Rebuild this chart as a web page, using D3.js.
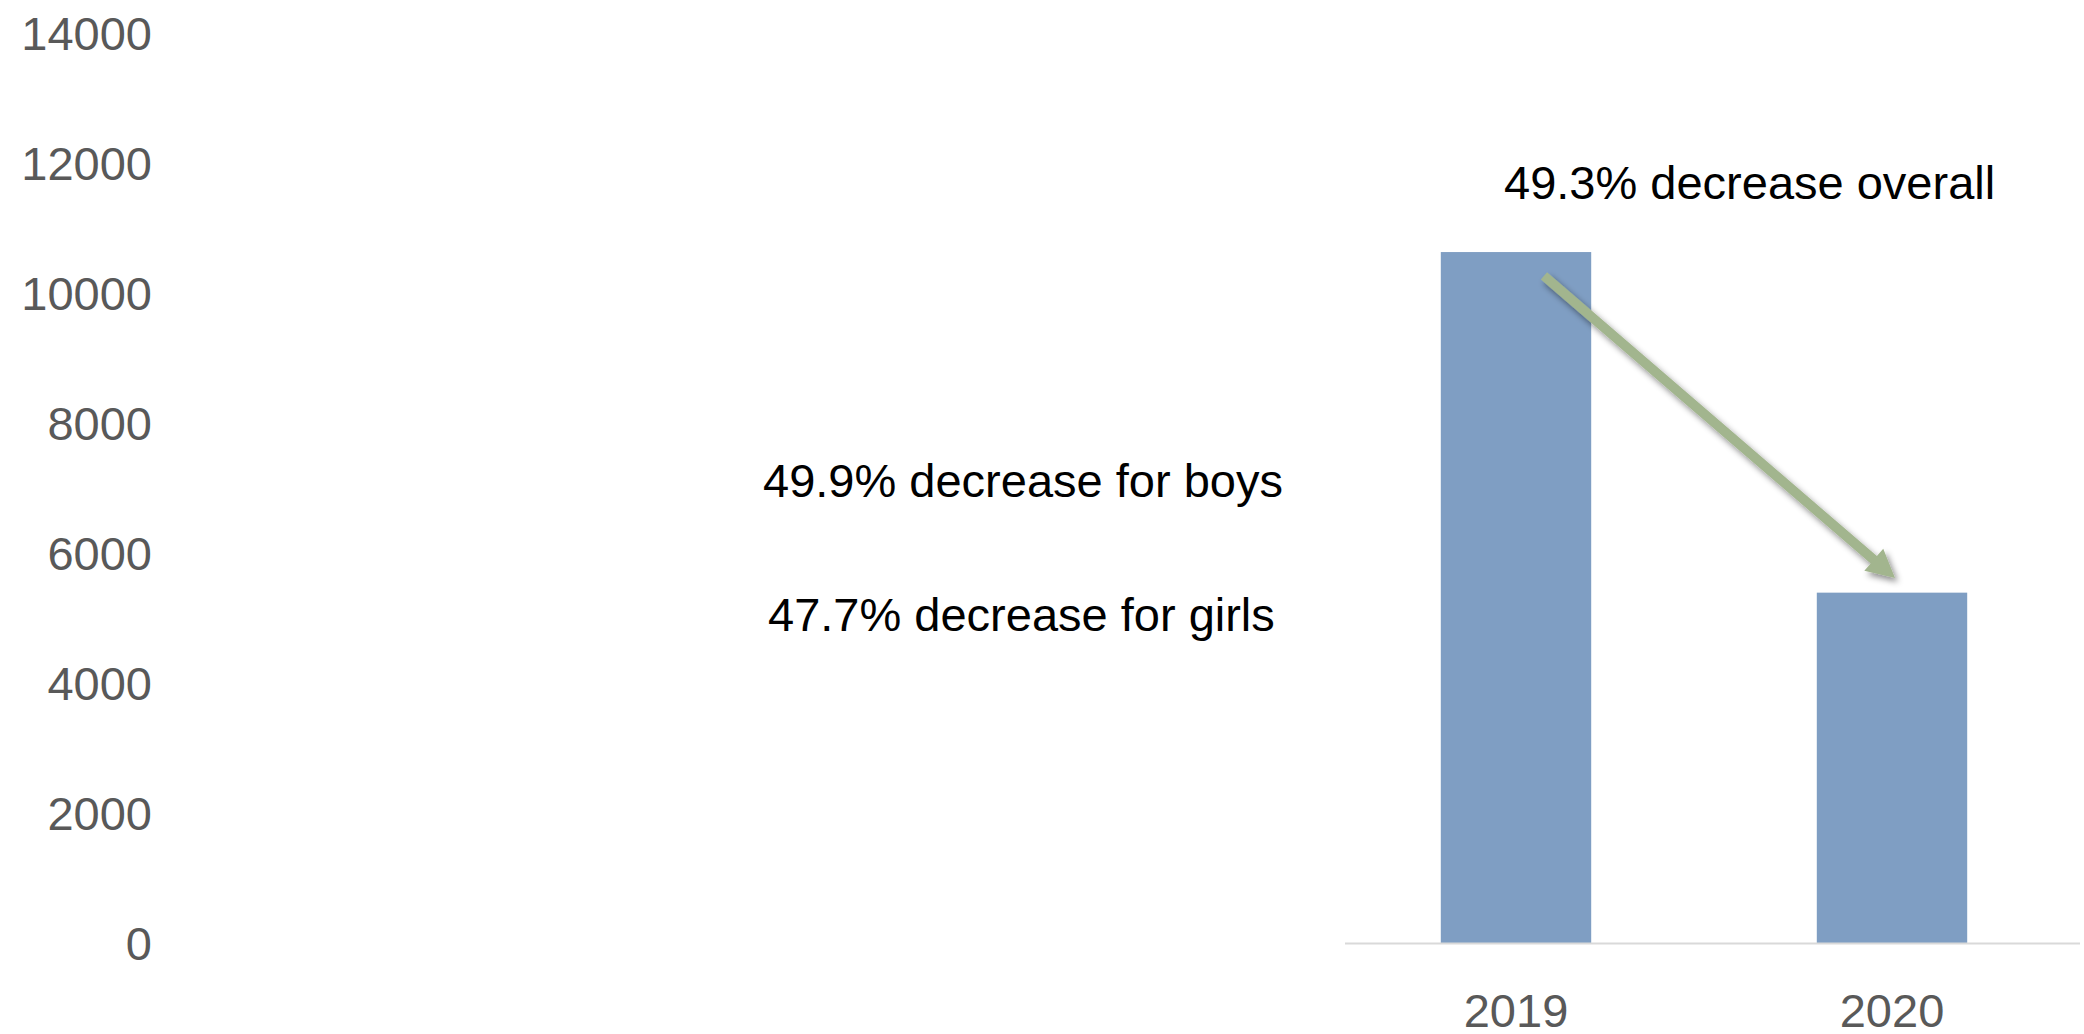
<!DOCTYPE html>
<html>
<head>
<meta charset="utf-8">
<script src="https://cdn.jsdelivr.net/npm/d3@7"></script>
<style>
  html, body { margin: 0; padding: 0; background: #fff; }
  svg { display: block; }
  text { font-family: "Liberation Sans", Arial, sans-serif; }
</style>
</head>
<body>
<svg id="chart" width="2084" height="1034"></svg>
<script>
// ---- data ----
const categories = ["2019", "2020"];
const values = [10630, 5390];
const yTicks = [0, 2000, 4000, 6000, 8000, 10000, 12000, 14000];
const annotations = [
  "49.3% decrease overall",
  "49.9% decrease for boys",
  "47.7% decrease for girls"
];
// arrow anchors in data terms: [category, fraction of band, value]
const arrowFrom = ["2019", 0.686, 10262];
const arrowTo = ["2020", 0.52, 5615];

// ---- layout ----
const W = 2084, H = 1034;
const svg = d3.select("#chart");

const y = d3.scaleLinear().domain([0, 14000]).range([943, 33]);
const x = d3.scaleBand().domain(categories).range([1328, 2080])
  .paddingInner(0.6).paddingOuter(0.3);

const defs = svg.append("defs");
const f = defs.append("filter").attr("id", "shadow")
  .attr("x", "-20%").attr("y", "-20%").attr("width", "140%").attr("height", "140%");
f.append("feDropShadow").attr("dx", 3).attr("dy", 4).attr("stdDeviation", 3)
  .attr("flood-color", "#000").attr("flood-opacity", 0.45);

// y axis labels (no line, no ticks)
const yAxis = d3.axisLeft(y).tickValues(yTicks).tickSize(0).tickPadding(0)
  .tickFormat(d3.format("d"));
const gy = svg.append("g").attr("transform", "translate(152,0)").call(yAxis);
gy.select(".domain").remove();
gy.selectAll("text")
  .attr("fill", "#595959")
  .attr("font-size", 47)
  .attr("font-family", "'Liberation Sans', Arial, sans-serif")
  .attr("dy", "0.36em");

// bars
svg.append("g").selectAll("rect").data(categories).join("rect")
  .attr("x", d => x(d))
  .attr("width", x.bandwidth())
  .attr("y", (d, i) => y(values[i]))
  .attr("height", (d, i) => y(0) - y(values[i]))
  .attr("fill", "#7f9ec3");

// x axis baseline
svg.append("line")
  .attr("x1", 1345).attr("x2", 2080)
  .attr("y1", y(0) + 0.5).attr("y2", y(0) + 0.5)
  .attr("stroke", "#d9d9d9").attr("stroke-width", 2);

// x labels
const xAxis = d3.axisBottom(x).tickSize(0).tickPadding(0);
const gx = svg.append("g").attr("transform", `translate(0,${y(0)})`).call(xAxis);
gx.select(".domain").remove();
gx.selectAll("text")
  .attr("fill", "#595959")
  .attr("font-size", 47)
  .attr("font-family", "'Liberation Sans', Arial, sans-serif")
  .attr("dy", null)
  .attr("y", 84);

// annotation texts
const annPos = [[1504, 199], [763, 497], [768, 631]];
svg.append("g").selectAll("text").data(annotations).join("text")
  .attr("x", (d, i) => annPos[i][0])
  .attr("y", (d, i) => annPos[i][1])
  .attr("font-size", 47)
  .attr("fill", "#000")
  .text(d => d);

// arrow
const p0 = [x(arrowFrom[0]) + x.bandwidth() * arrowFrom[1], y(arrowFrom[2])];
const p1 = [x(arrowTo[0]) + x.bandwidth() * arrowTo[1], y(arrowTo[2])];
const dx = p1[0] - p0[0], dy = p1[1] - p0[1];
const L = Math.hypot(dx, dy);
const ux = dx / L, uy = dy / L, nx = -uy, ny = ux;
const sw = 4.8, hw = 14.5, hl = 28;
const bx = p1[0] - ux * hl, by = p1[1] - uy * hl;
const pts = [
  [p0[0] + nx * sw, p0[1] + ny * sw],
  [bx + nx * sw, by + ny * sw],
  [bx + nx * hw, by + ny * hw],
  p1,
  [bx - nx * hw, by - ny * hw],
  [bx - nx * sw, by - ny * sw],
  [p0[0] - nx * sw, p0[1] - ny * sw]
];
svg.append("path")
  .attr("d", d3.line()(pts) + "Z")
  .attr("fill", "#a2b58e")
  .attr("filter", "url(#shadow)");
</script>
</body>
</html>
